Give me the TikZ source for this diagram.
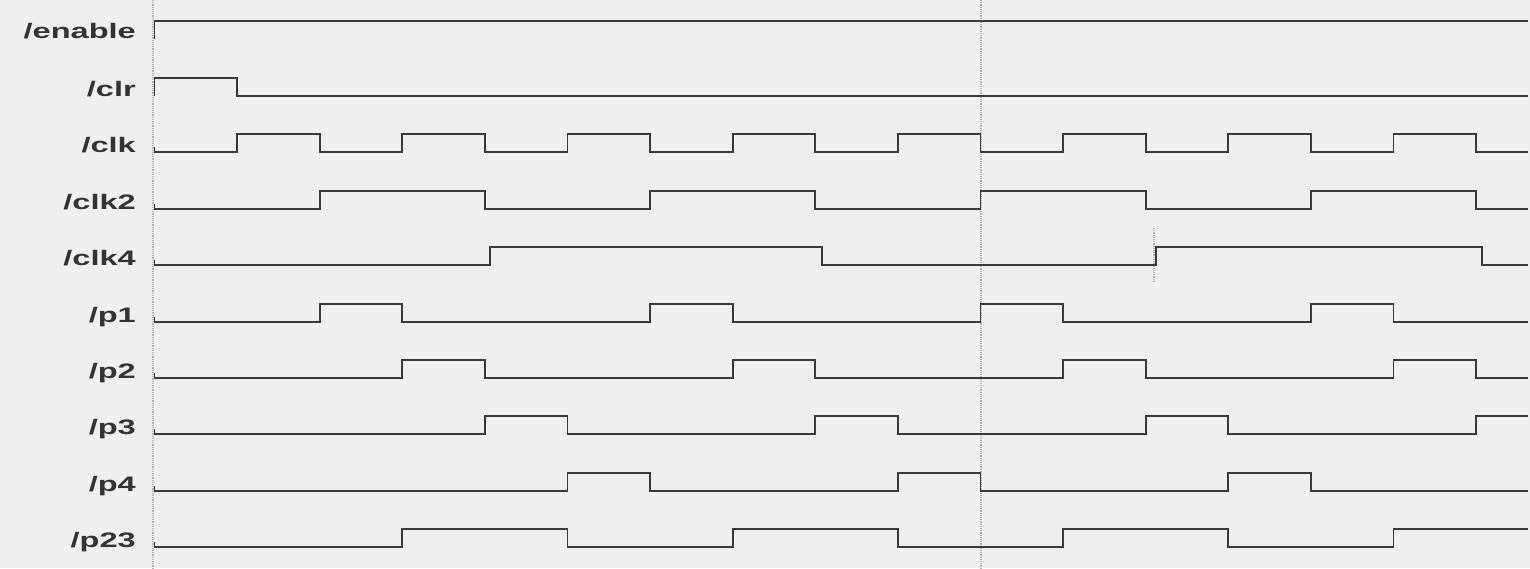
\documentclass[tikz,border=0pt]{standalone}
\usepackage{fontspec}
\newfontfamily\lblfont[FakeStretch=1.55]{Liberation Sans Bold}
\usepackage{xcolor}
\definecolor{paper}{HTML}{EFEFEF}
\definecolor{trace}{HTML}{3A3A3A}
\definecolor{ink}{HTML}{333333}
\tikzset{
  wave/.style={draw=trace,line width=1.8pt,line join=miter},
  sig/.style={anchor=base east,inner sep=0pt,text=ink,font=\lblfont\fontsize{21}{21}\selectfont},
  cursor/.style={draw=black!30,densely dotted,line width=1.2pt}
}

\begin{document}
\begin{tikzpicture}[x=1pt,y=-1pt]
  \fill[paper] (0,0) rectangle (1530,568);
  \useasboundingbox (0,0) rectangle (1530,568);
  % cursors
  \draw[cursor] (153,0) -- (153,568);
  \draw[cursor] (981,0) -- (981,568);
  \draw[cursor] (1154,228) -- (1154,282);
  % labels
  \node[sig] (lenable) at (136,38) {/enable};
  \node[sig] (lclr) at (136,96) {/clr};
  \node[sig] (lclk) at (136,152) {/clk};
  \node[sig] (lclktwo) at (136,209) {/clk2};
  \node[sig] (lclkfour) at (136,265) {/clk4};
  \node[sig] (lpone) at (136,322) {/p1};
  \node[sig] (lptwo) at (136,378) {/p2};
  \node[sig] (lpthree) at (136,434) {/p3};
  \node[sig] (lpfour) at (136,491) {/p4};
  \node[sig] (lptt) at (136,547) {/p23};
  % waveforms, time in half clock periods
  \begin{scope}[shift={(154.5,0)},x=82.6pt]
    \draw[wave] (0,39) -- (0,21) -- (16.63,21);
    \draw[wave] (0,96) -- (0,78) -| (1,96) -- (16.63,96);
    \draw[wave] (0,147) -- (0,152)
      \foreach \t in {1,3,...,15} { -| (\t,134) -| (\t+1,152) } -- (16.63,152);
    \draw[wave] (0,204) -- (0,209)
      \foreach \t in {2,6,10,14} { -| (\t,191) -| (\t+2,209) } -- (16.63,209);
    \draw[wave] (0,260) -- (0,265)
      -| (4.06,247) -| (8.08,265) -| (12.12,247) -| (16.07,265) -- (16.63,265);
    \draw[wave] (0,317) -- (0,322)
      \foreach \t in {2,6,10,14} { -| (\t,304) -| (\t+1,322) } -- (16.63,322);
    \draw[wave] (0,373) -- (0,378)
      \foreach \t in {3,7,11,15} { -| (\t,360) -| (\t+1,378) } -- (16.63,378);
    \draw[wave] (0,429) -- (0,434)
      \foreach \t in {4,8,12} { -| (\t,416) -| (\t+1,434) } -| (16,416) -- (16.63,416);
    \draw[wave] (0,486) -- (0,491)
      \foreach \t in {5,9,13} { -| (\t,473) -| (\t+1,491) } -- (16.63,491);
    \draw[wave] (0,542) -- (0,547)
      \foreach \t in {3,7,11} { -| (\t,529) -| (\t+2,547) } -| (15,529) -- (16.63,529);
  \end{scope}
\end{tikzpicture}
\end{document}
